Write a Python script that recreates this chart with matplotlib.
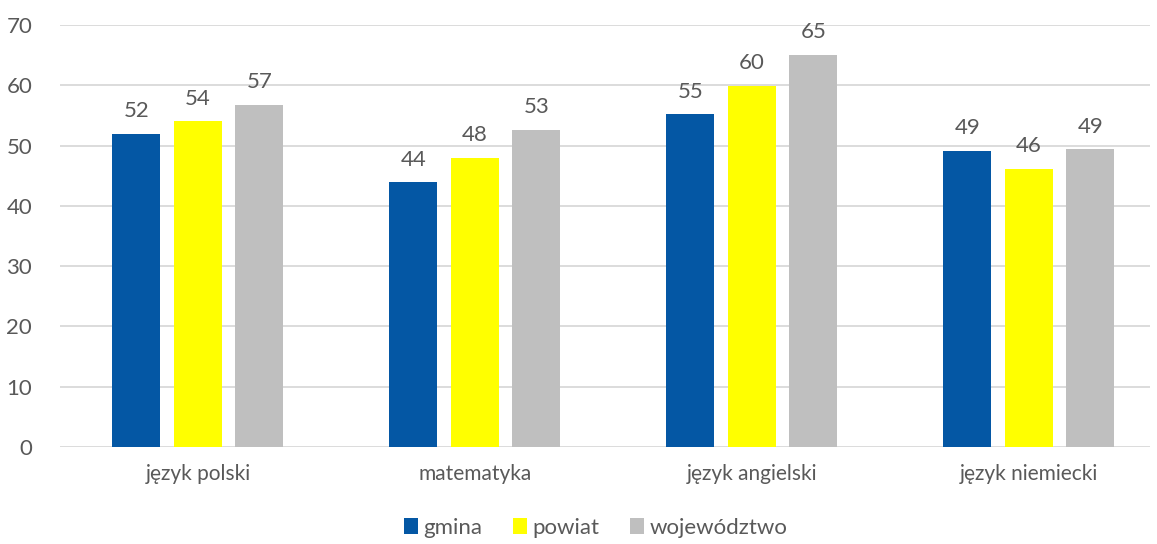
import matplotlib
matplotlib.use("Agg")
import matplotlib.pyplot as plt
import numpy as np

categories = ["język polski", "matematyka", "język angielski", "język niemiecki"]
series_names = ["gmina", "powiat", "województwo"]
gmina = [52.0, 43.9, 55.2, 49.1]
powiat = [54.0, 48.0, 59.9, 46.1]
wojewodztwo = [56.8, 52.6, 65.1, 49.4]
colors = ["#0457A4", "#FFFF00", "#BFBFBF"]

plt.rcParams['font.family'] = ['Lato', 'DejaVu Sans']
fig = plt.figure(figsize=(11.57, 5.44), dpi=100)
ax = fig.add_axes([60/1157, 1-447/544, 1090/1157, 422/544])

x = np.arange(len(categories))
step = 0.222
w = 0.173
for i, (vals, name, c) in enumerate(zip([gmina, powiat, wojewodztwo], series_names, colors)):
    bars = ax.bar(x + (i-1)*step, vals, w, color=c, label=name, zorder=3)
    for b, v in zip(bars, vals):
        ax.text(b.get_x()+b.get_width()/2, v + 2.1, f"{v:.0f}", ha='center', va='bottom',
                fontsize=16, color='#595959', zorder=4)

ax.set_ylim(0, 70)
ax.set_xlim(-0.498, 3.437)
ax.set_yticks(range(0, 71, 10))
ax.yaxis.grid(True, color='#D9D9D9', linewidth=1.3, zorder=0)
for s in ax.spines.values():
    s.set_visible(False)
ax.tick_params(axis='y', length=0, labelsize=16, labelcolor='#595959', pad=20)
ax.tick_params(axis='x', length=0, labelsize=15, labelcolor='#595959', pad=12)
ax.set_xticks(x)
ax.set_xticklabels(categories)

fig.legend(loc='lower center', bbox_to_anchor=(0.515, -0.025), ncol=3, frameon=False,
           fontsize=16, labelcolor='#595959', handlelength=0.6, handleheight=0.7,
           handletextpad=0.25, columnspacing=1.4)
fig.savefig("out.png", dpi=100)
